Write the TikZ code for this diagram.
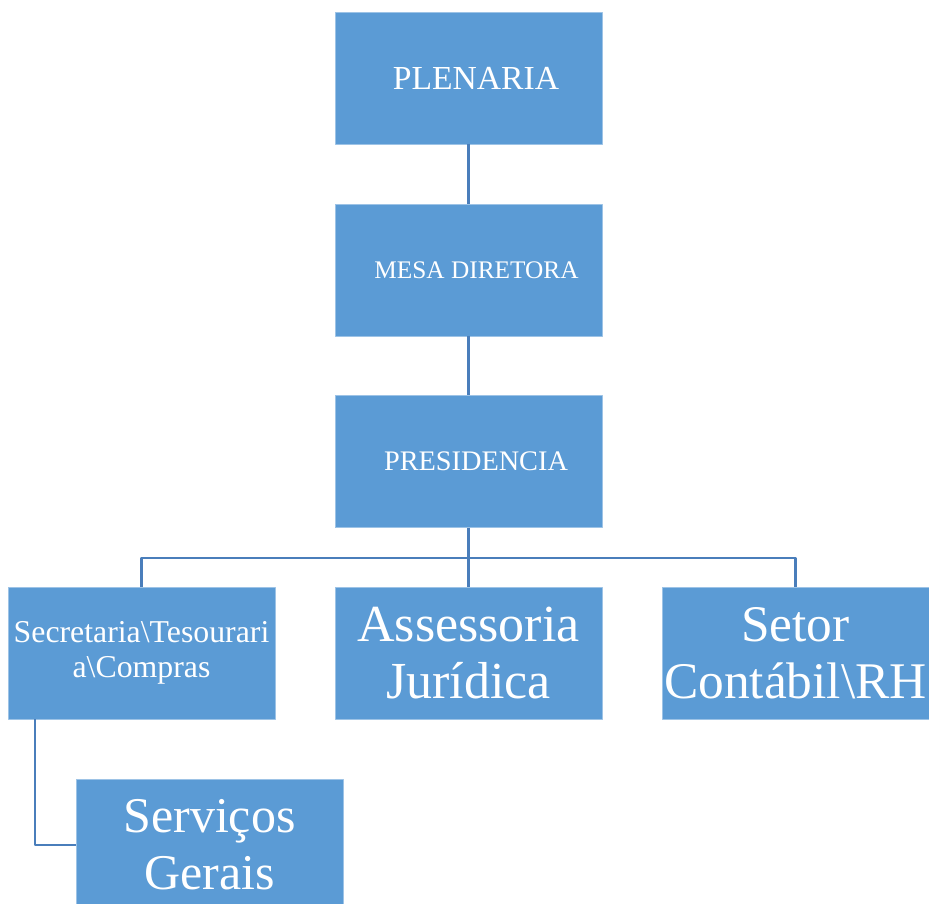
\documentclass[tikz,border=0pt]{standalone}
\usepackage{fontspec}
\setmainfont{Liberation Serif}
\usetikzlibrary{positioning}
\definecolor{caixa}{HTML}{5B9BD5}
\definecolor{borda}{HTML}{9DC3E6}
\definecolor{linha}{HTML}{4A7EBB}
\newcommand\tam[2]{\fontsize{#1}{#2}\selectfont}

\begin{document}
\begin{tikzpicture}[x=1pt,y=-1pt, line join=round,
  setor/.style={fill=caixa, draw=borda, line width=0.8pt, text=white, align=center,
    inner sep=0pt, minimum width=267pt, minimum height=132pt},
  liga/.style={draw=linha, line width=2.5pt}]
\useasboundingbox (0,0) rectangle (929,903);
\node[setor,font=\tam{33.6}{36}] (plen) at (468.5,78)    {\hspace*{15pt}PLENARIA};
\node[setor,font=\tam{25.3}{28}] (mesa) at (468.5,270)   {\hspace*{16pt}MESA DIRETORA};
\node[setor,font=\tam{28.3}{31}] (pres) at (468.5,461.5) {\hspace*{15pt}PRESIDENCIA};
\node[setor,font=\tam{31.8}{35}] (secr) at (141.5,653)   {Secretaria\textbackslash Tesourari\\a\textbackslash Compras};
\node[setor,font=\tam{52}{57}]   (asse) at (468.5,653)   {Assessoria\\Jurídica};
\node[setor,font=\tam{51.4}{57}] (seto) at (795.5,653)   {Setor\\Contábil\textbackslash RH};
\node[setor,font=\tam{50}{57}]   (serv) at (209.5,845)   {Serviços\\Gerais};
\coordinate[below=30pt of pres] (barra);
\draw[liga] (plen)--(mesa);
\draw[liga] (mesa)--(pres);
\draw[liga] (pres.south)--(asse.north);
\draw[liga] (barra) -| (secr.north);
\draw[liga] (barra) -| (seto.north);
\draw[liga] ([xshift=-106.5pt]secr.south) |- (serv.west);
\end{tikzpicture}
\end{document}
